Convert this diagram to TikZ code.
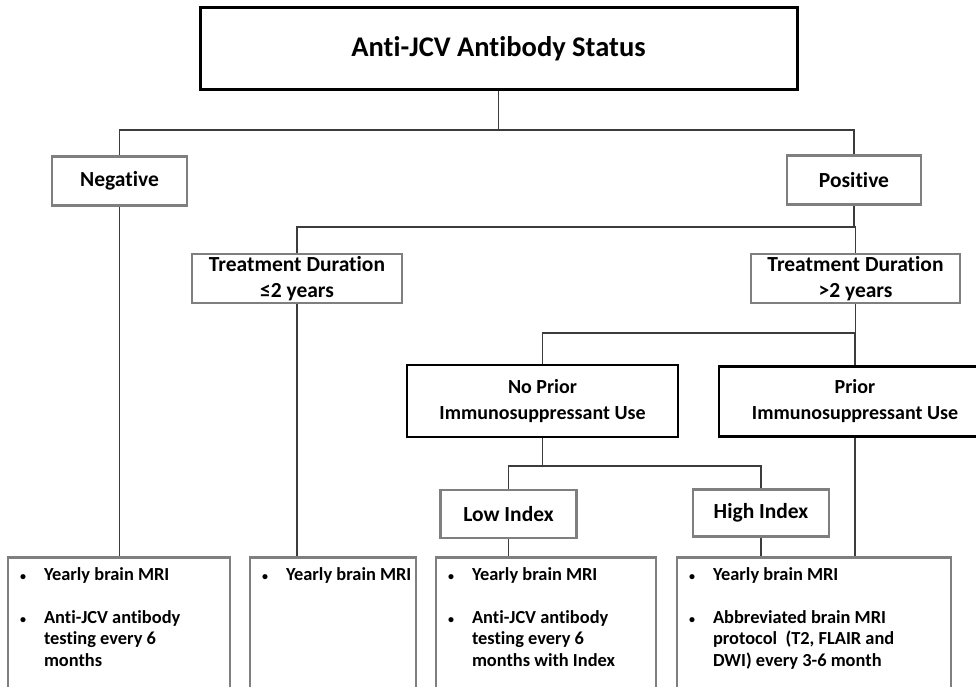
\documentclass[tikz,border=0pt]{standalone}
\usepackage{fontspec}
\setmainfont{Carlito}[Ligatures=CommonOff]
\usepackage{tikz}
\usetikzlibrary{positioning, calc}
\definecolor{boxgray}{HTML}{7F7F7F}
\definecolor{linkgray}{HTML}{3C3C3C}
\newcommand{\advice}[2]{\parbox[t][150pt][t]{#1}{\raggedright #2}}
\newcommand{\bul}{\par\hangindent=31pt\hangafter=1\noindent\makebox[31pt][l]{\hspace{7pt}{\fontsize{12}{12}\selectfont\textbullet}}}
\newcommand{\gap}{\par\vspace{21.5pt}}
\newcommand{\nl}{\newline}

\begin{document}
\begin{tikzpicture}[x=1pt, y=-1pt,
  headbox/.style={draw, line width=3pt, minimum width=597pt, minimum height=82pt, font=\fontsize{28.5}{34}\selectfont\bfseries},
  kbox/.style={draw, line width=2.6pt, align=center, inner sep=1pt, font=\fontsize{20}{26}\selectfont\bfseries},
  gbox/.style={draw=boxgray, line width=2.6pt, align=center, inner sep=1pt, font=\fontsize{21.5}{26}\selectfont\bfseries},
  outbox/.style={draw=boxgray, line width=2.6pt, anchor=north, inner xsep=5pt, inner ysep=10pt, font=\fontsize{18.4}{21.5}\selectfont\bfseries},
  link/.style={draw=linkgray, line width=1.3pt}
]
\useasboundingbox (0,0) rectangle (976,686);
\node[headbox] (status) at (498.5,48.5) {Anti-JCV Antibody Status};
\node[gbox, minimum width=135pt, minimum height=49pt] (neg) at (119.5,181) {Negative};
\node[gbox, minimum width=134pt, minimum height=49pt] (pos) at (854,180) {Positive};
\node[gbox, minimum width=210pt, minimum height=49pt] (short) at (297,278.5) {Treatment Duration\\≤2 years};
\node[gbox, minimum width=209pt, minimum height=49pt] (long) at (855.5,278.5) {Treatment Duration\\>2 years};
\node[kbox, minimum width=271pt, minimum height=72pt] (noprior) at (542.5,401) {No Prior\\Immunosuppressant Use};
\node[kbox, minimum width=272pt, minimum height=70pt] (prior) at (855,401.5) {Prior\\Immunosuppressant Use};
\node[gbox, minimum width=136pt, minimum height=48pt] (low) at (508.5,514) {Low Index};
\node[gbox, minimum width=136pt, minimum height=47pt] (high) at (761,513) {High Index};
\node[outbox] (o1) at (119,556) {\advice{212pt}{\bul Yearly brain MRI\gap\bul Anti-JCV antibody\nl testing every 6\nl months}};
\node[outbox] (o2) at (333,556) {\advice{156pt}{\bul \mbox{Yearly brain MRI}}};
\node[outbox] (o3) at (546,556) {\advice{210pt}{\bul Yearly brain MRI\gap\bul Anti-JCV antibody\nl testing every 6\nl months with Index}};
\node[outbox] (o4) at (814,556) {\advice{264pt}{\bul Yearly brain MRI\gap\bul Abbreviated brain MRI\nl protocol\ \ (T2, FLAIR and\nl DWI) every 3-6 month}};

\coordinate (j1) at (status.south |- 0,130);
\coordinate (j2) at (pos.south |- 0,227);
\coordinate (j3) at (long.south |- 0,333);
\coordinate (j4) at (noprior.south |- 0,466);
\draw[link] (status.south) -- (j1);
\draw[link] (neg.north) |- (j1) -| (pos.north);
\draw[link] (pos.south) -- (j2);
\draw[link] (short.north) |- (j2) -| (long.north);
\draw[link] (long.south) -- (j3);
\draw[link] (noprior.north) |- (j3) -| (prior.north);
\draw[link] (noprior.south) -- (j4);
\draw[link] (low.north) |- (j4) -| (high.north);
\draw[link] (neg.south) -- (neg.south |- o1.north);
\draw[link] (short.south) -- (short.south |- o2.north);
\draw[link] (low.south) -- (low.south |- o3.north);
\draw[link] (high.south) -- (high.south |- o4.north);
\draw[link] (prior.south) -- (prior.south |- o4.north);
\end{tikzpicture}
\end{document}
